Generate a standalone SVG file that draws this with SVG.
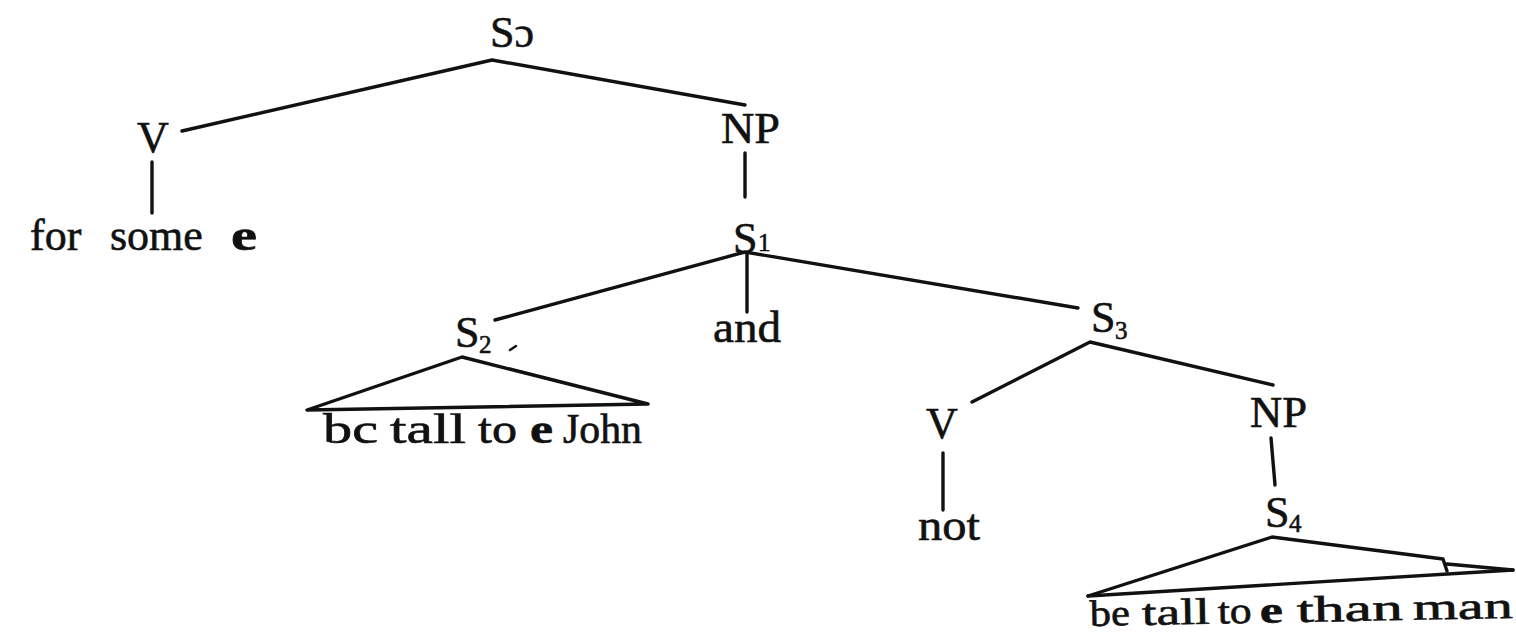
<svg xmlns="http://www.w3.org/2000/svg" width="1516" height="634" viewBox="0 0 1516 634">
<style>
text{font-family:"Liberation Serif","Times New Roman",serif;font-size:44px;fill:#111;stroke:#111;stroke-width:0.6}
.sub{font-size:25px}
.b{font-weight:bold}
.leaf{font-size:42px}
.leaf2{font-size:37px}
.e{stroke:#111;stroke-width:3.4;fill:none;stroke-linecap:round;stroke-linejoin:round}
</style>
<rect width="1516" height="634" fill="#fff"/>
<g id="connectors">
<path class="e" d="M182,131 L492,60 L745,105"/>
<path class="e" d="M152,162 L152,213"/>
<path class="e" d="M745,153 L745,197"/>
<path class="e" d="M495,320 L745,252 L1078,308"/>
<path class="e" d="M747,253 L747,312"/>
<path class="e" d="M972,402 L1090,342 L1273,385"/>
<path class="e" d="M943,453 L943,510"/>
<path class="e" d="M1271,438 L1275,485"/>
</g>
<g id="S0"><text x="490" y="47">Sɔ</text></g>
<g id="V1"><text x="153" y="152" text-anchor="middle">V</text></g>
<g id="leaf-for-some-e"><text y="250"><tspan x="30">for</tspan><tspan x="110">some</tspan><tspan x="231" class="b" textLength="26" lengthAdjust="spacingAndGlyphs">e</tspan></text></g>
<g id="NP1"><text x="721" y="143" textLength="59" lengthAdjust="spacingAndGlyphs">NP</text></g>
<g id="S1"><text x="733" y="253">S<tspan class="sub" x="758" y="251">1</tspan></text></g>
<g id="and"><text x="747" y="342" text-anchor="middle" textLength="68" lengthAdjust="spacingAndGlyphs">and</text></g>
<g id="S2">
<text x="455" y="347">S<tspan class="sub" x="479" y="353">2</tspan></text>
<path d="M510,350 L516,346" stroke="#111" stroke-width="2.5" stroke-linecap="round"/>
<path class="e" d="M307,410 L462,357 L648,404 Z"/>
<text class="leaf" y="443"><tspan x="323" textLength="55" lengthAdjust="spacingAndGlyphs">bc</tspan><tspan x="390" textLength="76" lengthAdjust="spacingAndGlyphs">tall</tspan><tspan x="478" textLength="39" lengthAdjust="spacingAndGlyphs">to</tspan><tspan x="530" class="b" textLength="23" lengthAdjust="spacingAndGlyphs">e</tspan><tspan x="563" textLength="79" lengthAdjust="spacingAndGlyphs">John</tspan></text>
</g>
<g id="S3"><text x="1091" y="332">S<tspan class="sub" x="1115" y="339">3</tspan></text></g>
<g id="V2"><text x="942" y="438" text-anchor="middle">V</text></g>
<g id="not"><text x="949" y="540" text-anchor="middle" textLength="62" lengthAdjust="spacingAndGlyphs">not</text></g>
<g id="NP2"><text x="1250" y="427" textLength="57" lengthAdjust="spacingAndGlyphs">NP</text></g>
<g id="S4">
<text x="1265" y="527">S<tspan class="sub" x="1289" y="532">4</tspan></text>
<path class="e" d="M1088,596 L1272,537 L1443,559 L1447,571"/>
<path class="e" d="M1088,596 L1513,570"/>
<path class="e" d="M1447,564 L1513,570"/>
<text class="leaf2" y="626" transform="rotate(-1.1 1090 626)"><tspan x="1090" textLength="40" lengthAdjust="spacingAndGlyphs">be</tspan><tspan x="1142" textLength="68" lengthAdjust="spacingAndGlyphs">tall</tspan><tspan x="1218" textLength="34" lengthAdjust="spacingAndGlyphs">to</tspan><tspan x="1260" class="b" textLength="23" lengthAdjust="spacingAndGlyphs">e</tspan><tspan x="1297" textLength="106" lengthAdjust="spacingAndGlyphs">than</tspan><tspan x="1413" textLength="100" lengthAdjust="spacingAndGlyphs">man</tspan></text>
</g>
</svg>
